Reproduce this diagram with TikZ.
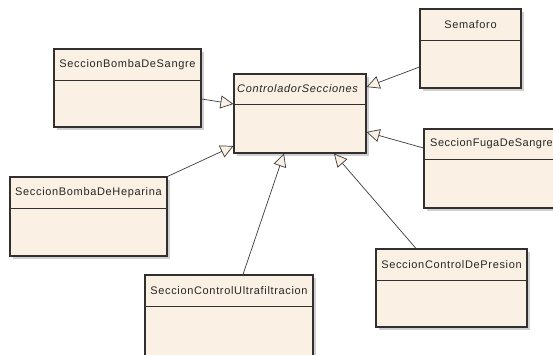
\documentclass[tikz,border=0pt]{standalone}
\usepackage{fontspec}
\setmainfont{Liberation Sans}
\newfontfamily\umlfont[LetterSpace=6]{Liberation Sans}
\newfontfamily\umlfontnarrow[LetterSpace=4.5]{Liberation Sans}
\usetikzlibrary{arrows.meta,shadows,calc}
\definecolor{clsfill}{RGB}{250,240,227}
\definecolor{clsdraw}{RGB}{50,48,46}
\definecolor{linecol}{RGB}{60,60,60}
\tikzset{
  cls/.style={draw=clsdraw, line width=1.1pt, fill=clsfill, inner sep=0pt,
    drop shadow={shadow xshift=2.5pt, shadow yshift=-2.5pt, fill=black!30, opacity=0.6}},
  divline/.style={draw=clsdraw, line width=0.9pt},
  clstext/.style={font=\umlfont\fontsize{11}{13}\selectfont, text=black!85, inner sep=0pt},
  gen/.style={draw=linecol, line width=0.7pt,
    -{Triangle[length=13pt, width=13pt, fill=clsfill, line width=0.7pt]}},
}
\newcommand{\umlclass}[7]{%
  \node[cls, minimum width={#4-#2}, minimum height={#5-#3}] (#1) at ({(#2+#4)/2},{(#3+#5)/2}) {};
  \draw[divline] (#2,#6) -- (#4,#6);
  \node[clstext] (#1-name) at ({(#2+#4)/2},{(#3+#6)/2}) {#7};
}
\begin{document}
\begin{tikzpicture}[x=1pt, y=-1pt]
\useasboundingbox (0,0) rectangle (553,354);
\clip (0,0) rectangle (553,354);
\fill[white] (0,0) rectangle (553,354);
% classes
\umlclass{bs}{54}{49}{201}{127}{80}{SeccionBombaDeSangre}
\node[cls, minimum width=132, minimum height=79] (ctl) at (300,113.5) {};
\draw[divline] (234,104) -- (366,104);
\node[clstext, anchor=west, font=\umlfont\itshape\fontsize{11}{13}\selectfont] (ctl-name) at (237,89) {ControladorSecciones};
\umlclass{sem}{420}{9}{521}{88}{40}{Semaforo}
\node[cls, minimum width=152, minimum height=79] (fuga) at (500,168.5) {};
\draw[divline] (424,159) -- (576,159);
\node[clstext, anchor=west, font=\umlfontnarrow\fontsize{11}{13}\selectfont] (fuga-name) at (430,144) {SeccionFugaDeSangre};
\umlclass{hep}{10}{177}{167}{256}{208}{SeccionBombaDeHeparina}
\umlclass{uf}{145}{275}{313}{356}{306}{SeccionControlUltrafiltracion}
\umlclass{pre}{376}{249}{527}{327}{280}{SeccionControlDePresion}
% generalizations
\draw[gen] ([yshift=-18.5pt]sem.west) -- ([yshift=26.5pt]ctl.east);
\draw[gen] ([yshift=20.5pt]fuga.west) -- ([yshift=-18.5pt]ctl.east);
\draw[gen] ([yshift=-11pt]bs.east) -- ([yshift=9.5pt]ctl.west);
\draw[gen] (hep.north east) -- ([yshift=-32.5pt]ctl.west);
\draw[gen] ([xshift=14pt]uf.north) -- ([xshift=-16pt]ctl.south);
\draw[gen] ([xshift=-35.5pt]pre.north) -- ([xshift=34pt]ctl.south);
\end{tikzpicture}
\end{document}
